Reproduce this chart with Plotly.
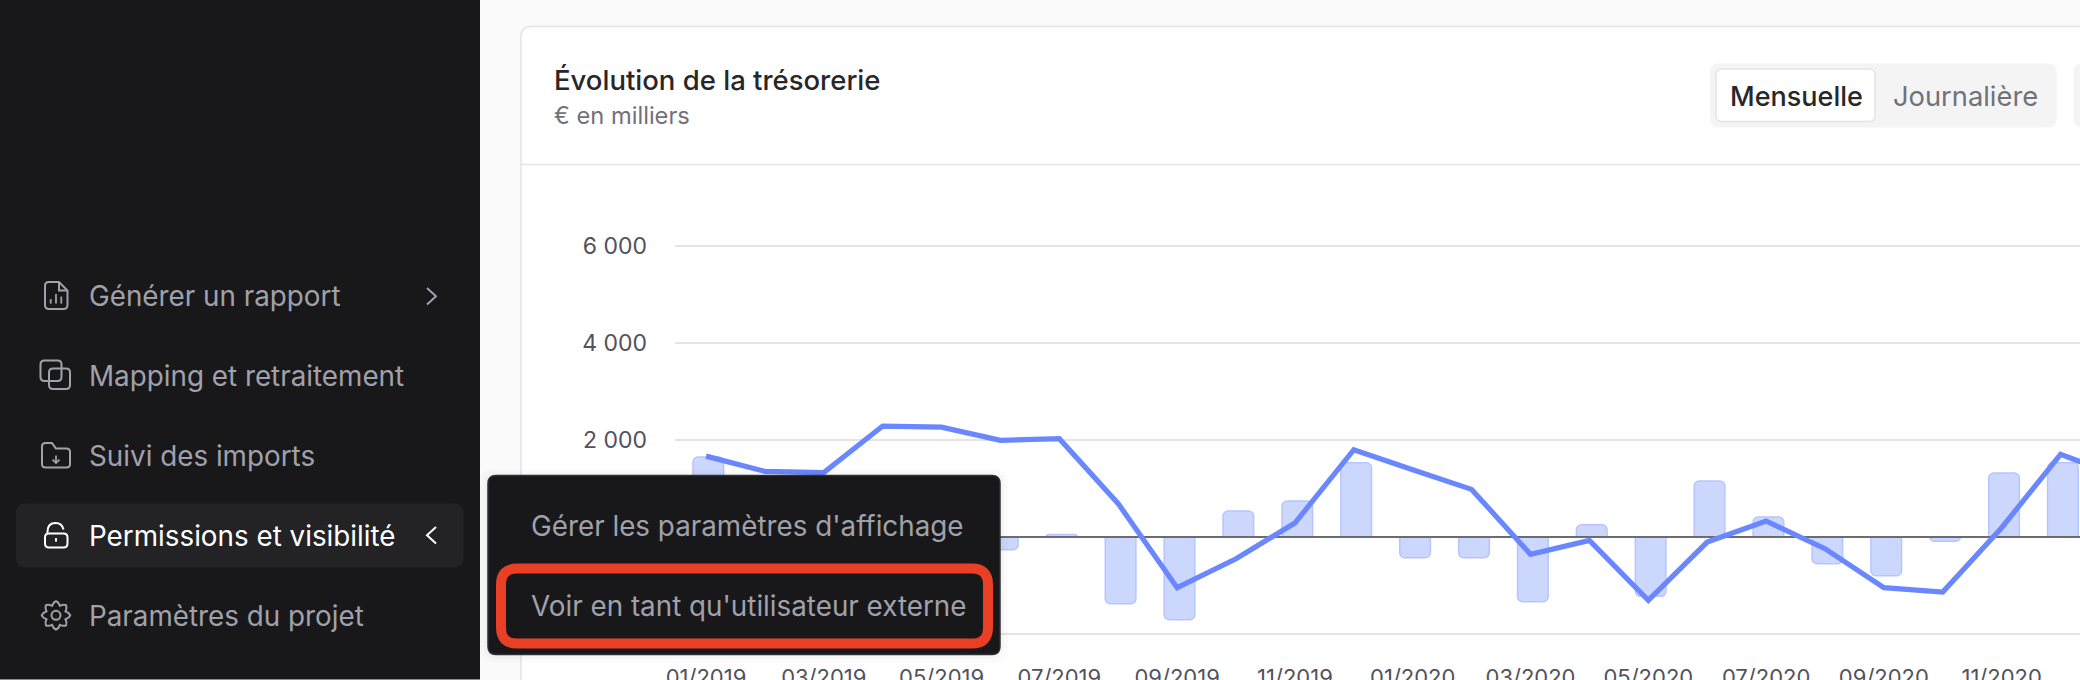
import math
import plotly.graph_objects as go

W, H = 2080, 680
LEFT, TOP, BOTTOM = 675, 244.4, 43.6

months = ["01/2019", "02/2019", "03/2019", "04/2019", "05/2019", "06/2019", "07/2019", "08/2019", "09/2019",
          "10/2019", "11/2019", "12/2019", "01/2020", "02/2020", "03/2020", "04/2020", "05/2020", "06/2020",
          "07/2020", "08/2020", "09/2020", "10/2020", "11/2020", "12/2020", "01/2021"]
# bars for 02-05/2019 sit behind the popup, so those four are guesses
flows = [1650, -400, -50, 900, -60, -260, 50, -1374, -1704, 536, 742, 1532, -426, -426, -1333, 254, -1223,
         1154, 412, -550, -797, -89, 1319, 1532, 900]
balance = [1668, 1353, 1327, 2287, 2266, 1992, 2027, 687, -1044, -447, 289, 1800, 1388, 982, -357, -69, -1305,
           -103, 330, -240, -1044, -1134, 192, 1704, 1250]
y_ticks = [-2000, 0, 2000, 4000, 6000]
y_labels = ["-2 000", "0", "2 000", "4 000", "6 000"]

menu_items = ["Générer un rapport", "Mapping et retraitement", "Suivi des imports", "Permissions et visibilité",
              "Paramètres du projet"]
menu_y = [296.7, 376.7, 456.7, 536.7, 616.7]
popup_items = ["Gérer les paramètres d'affichage", "Voir en tant qu'utilisateur externe"]
popup_y = [526.7, 606.7]

FONT = "Inter"
GREY = "#a1a1aa"
BORDER = "#e4e4e7"
SIDE = "#18181b"
BLUE = "#6a87ff"


# paper coordinates are relative to the plot area, so convert from page pixels
def px(x):
    return (x - LEFT) / (W - LEFT)


def py(y):
    return 1 - (y - TOP) / (H - TOP - BOTTOM)


def path(cmds):
    out = []
    for c in cmds:
        nums = c[1:]
        pts = [f"{px(nums[i]):.5f},{py(nums[i + 1]):.5f}" for i in range(0, len(nums), 2)]
        out.append(c[0] + " ".join(pts))
    return " ".join(out)


def rrect(x0, y0, x1, y1, r):
    return [("M", x0 + r, y0), ("L", x1 - r, y0), ("Q", x1, y0, x1, y0 + r), ("L", x1, y1 - r),
            ("Q", x1, y1, x1 - r, y1), ("L", x0 + r, y1), ("Q", x0, y1, x0, y1 - r), ("L", x0, y0 + r),
            ("Q", x0, y0, x0 + r, y0), ("Z",)]


def box(x0, y0, x1, y1, r, fill, line=None, lw=0, layer="above"):
    return dict(type="path", xref="paper", yref="paper", path=path(rrect(x0, y0, x1, y1, r)), fillcolor=fill,
                line=dict(color=line or fill, width=lw), layer=layer)


def stroke(cmds, color=GREY, lw=2):
    return dict(type="path", xref="paper", yref="paper", path=path(cmds), line=dict(color=color, width=lw),
                fillcolor="rgba(0,0,0,0)", layer="above")


def label(x, y, text, size, color, weight=400, anchor="left"):
    return dict(xref="paper", yref="paper", x=px(x), y=py(y), text=text, showarrow=False, xanchor=anchor,
                yanchor="middle", borderpad=0, font=dict(family=FONT, size=size, color=color, weight=weight))


def gear(cx, cy, r_out, r_in, teeth=8):
    cmds = []
    step = math.pi / teeth
    for i in range(teeth * 2):
        a = i * step - math.pi / 2
        r = r_out if i % 2 == 0 else r_in
        x, y = cx + r * math.cos(a), cy + r * math.sin(a)
        if i == 0:
            cmds.append(("M", x, y))
        else:
            b = a - step / 2
            ctrl = (r_out + r_in) / 2 + 1.2
            cmds.append(("Q", cx + ctrl * math.cos(b), cy + ctrl * math.sin(b), x, y))
    b = -math.pi / 2 - step / 2
    ctrl = (r_out + r_in) / 2 + 1.2
    cmds.append(("Q", cx + ctrl * math.cos(b), cy + ctrl * math.sin(b), cx, cy - r_out))
    return cmds


shapes = [
    # page, card and header
    box(521, 27, 2120, 720, 10, "#ffffff", BORDER, 1.5, layer="below"),
    dict(type="line", xref="paper", yref="paper", x0=px(521), x1=px(W), y0=py(165), y1=py(165),
         line=dict(color=BORDER, width=1.5), layer="below"),
    box(1710, 64, 2056.7, 128, 9, "#f4f4f5", layer="below"),
    box(2073.5, 64, 2120, 128, 9, "#f4f4f5", layer="below"),
    box(1716, 69.5, 1875, 122, 6, "#ffffff", BORDER, 1.5, layer="below"),
    # sidebar
    dict(type="rect", xref="paper", yref="paper", x0=px(0), x1=px(480), y0=py(H), y1=py(0), fillcolor=SIDE,
         line=dict(width=0), layer="above"),
    box(16, 504, 463.5, 568, 10, "#232326"),
    # popup shadow, body, red highlight
    box(480, 470, 1008, 663, 14, "rgba(0,0,0,0.015)"),
    box(484, 473, 1004, 659, 12, "rgba(0,0,0,0.02)"),
    box(488, 476, 1000, 655, 8, SIDE, "#303034", 1.5),
    box(501, 569, 988, 644, 16, "rgba(0,0,0,0)", "#e83f25", 10),
    # report icon
    stroke([("M", 49, 282.5), ("L", 59, 282.5), ("L", 67.5, 291), ("L", 67.5, 305.5), ("Q", 67.5, 309.5, 63.5, 309.5),
            ("L", 49, 309.5), ("Q", 45, 309.5, 45, 305.5), ("L", 45, 286.5), ("Q", 45, 282.5, 49, 282.5), ("Z",)]),
    stroke([("M", 59, 282.5), ("L", 59, 291), ("L", 67.5, 291)]),
    stroke([("M", 50.7, 299.5), ("L", 50.7, 304)], lw=1.8),
    stroke([("M", 56, 294.5), ("L", 56, 304)], lw=1.8),
    stroke([("M", 61.3, 297), ("L", 61.3, 304)], lw=1.8),
    # mapping icon
    box(40.5, 361, 61.5, 381.5, 4, "rgba(0,0,0,0)", GREY, 2),
    box(49, 369, 70, 389.5, 4, "rgba(0,0,0,0)", GREY, 2),
    # imports icon
    stroke([("M", 42, 447), ("Q", 42, 443.5, 45.5, 443.5), ("L", 52, 443.5), ("L", 56, 449), ("L", 66.5, 449),
            ("Q", 70, 449, 70, 452.5), ("L", 70, 464.5), ("Q", 70, 468, 66.5, 468), ("L", 45.5, 468),
            ("Q", 42, 468, 42, 464.5), ("Z",)]),
    stroke([("M", 56, 456), ("L", 56, 463), ("M", 52.5, 460), ("L", 56, 463.5), ("L", 59.5, 460)], lw=1.8),
    # lock icon
    box(45, 534, 67.5, 548, 4, "rgba(0,0,0,0)", "#ffffff", 2),
    stroke([("M", 47.5, 534), ("L", 47.5, 532), ("Q", 47.5, 523.5, 55.5, 523.5), ("Q", 62, 523.5, 63.5, 530)],
           color="#ffffff"),
    stroke([("M", 56, 538.5), ("L", 56, 542)], color="#ffffff"),
    # settings icon
    stroke(gear(56, 615.7, 14.3, 10.3)),
    dict(type="circle", xref="paper", yref="paper", x0=px(51.5), x1=px(60.5), y0=py(611.2), y1=py(620.2),
         line=dict(color=GREY, width=2), layer="above"),
    # chevrons
    stroke([("M", 427, 288.5), ("L", 436, 296.7), ("L", 427, 305)]),
    stroke([("M", 436, 527.5), ("L", 427, 535.7), ("L", 436, 544)], color="#ffffff"),
]

annotations = [
    label(553, 80.5, "Évolution de la trésorerie", 27.5, "#27272a", 500),
    label(553, 116, "€ en milliers", 23.7, "#71717a"),
    label(1728.5, 96.7, "Mensuelle", 27, "#27272a", 500),
    label(1892, 96.7, "Journalière", 27.3, "#71717a"),
]
for text, y in zip(menu_items, menu_y):
    annotations.append(label(87.5, y, text, 27.8, "#ffffff" if text.startswith("Permissions") else GREY))
for text, y in zip(popup_items, popup_y):
    annotations.append(label(529.5, y, text, 27.8, GREY))

x_pos = list(range(len(months)))
x_min, x_max = -0.526, 23.33

fig = go.Figure()
fig.add_trace(go.Bar(x=x_pos, y=flows, width=0.52, offset=-0.22,
                     marker=dict(color="#ccd7fe", line=dict(color="#b7c5ff", width=1.5))))
fig.add_trace(go.Scatter(x=[x_min, x_max], y=[0, 0], mode="lines", line=dict(color="#6b6b70", width=2)))
fig.add_trace(go.Scatter(x=x_pos, y=balance, mode="lines", line=dict(color=BLUE, width=5.2)))

fig.update_layout(
    width=W, height=H, margin=dict(l=LEFT, r=0, t=TOP, b=BOTTOM), showlegend=False, barcornerradius=5,
    paper_bgcolor="#fafafa", plot_bgcolor="rgba(0,0,0,0)", shapes=shapes, annotations=annotations,
    font=dict(family=FONT),
)
fig.update_xaxes(range=[x_min, x_max], tickmode="array", tickvals=x_pos[::2], ticktext=months[::2], showgrid=False,
                 zeroline=False, showline=False, ticks="", ticklabelstandoff=26, tickangle=0,
                 tickfont=dict(family=FONT, size=22, color="#52525b"), automargin=False)
fig.update_yaxes(range=[-2040, 6040], tickmode="array", tickvals=y_ticks, ticktext=y_labels, gridcolor=BORDER,
                 gridwidth=1.5, zeroline=False, showline=False, ticks="", ticklabelstandoff=27,
                 tickfont=dict(family=FONT, size=23, color="#52525b"), automargin=False)

fig.write_html("out.html", config=dict(displayModeBar=False),
               post_script="document.body.style.margin='0';document.body.style.overflow='hidden';")
